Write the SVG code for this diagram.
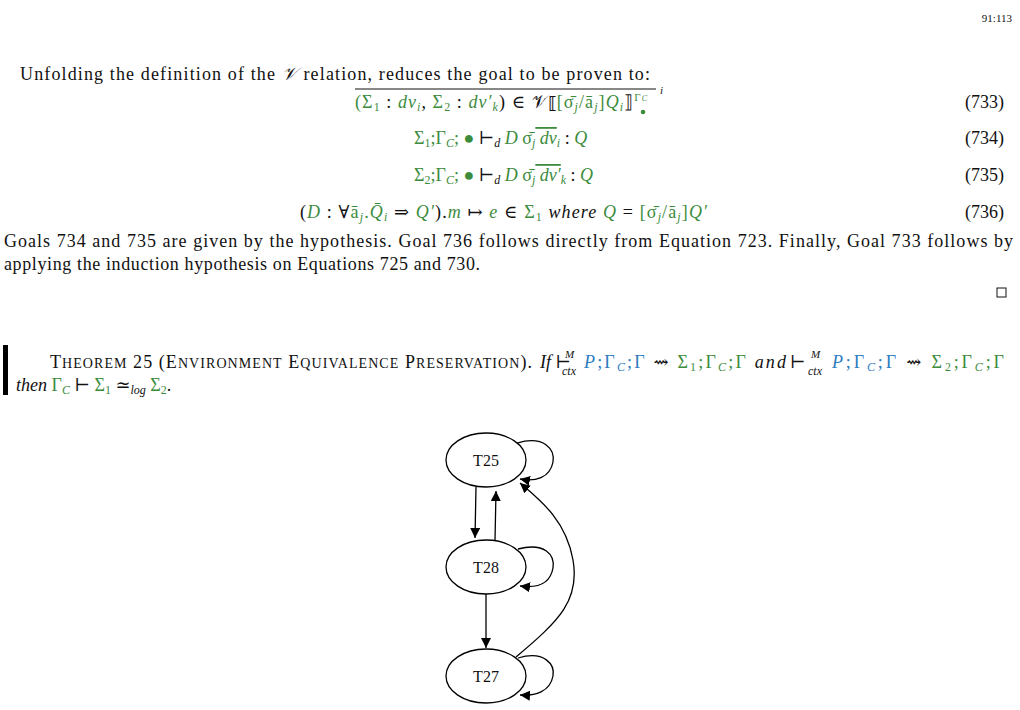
<svg xmlns="http://www.w3.org/2000/svg" width="1020" height="710" viewBox="0 0 1020 710">
<style>
text{font-family:"Liberation Serif","DejaVu Serif",serif;font-size:18px;fill:#111}
.g{fill:#3d8c3d}.b{fill:#2b7bbf}.i{font-style:italic}
.sc{font-size:14px}
.n{fill:#fff;stroke:#000;stroke-width:1.3}
.e{fill:none;stroke:#000;stroke-width:1.3}
.nt{font-size:16px;text-anchor:middle}
</style>
<defs><marker id="a" viewBox="0 0 10 10" refX="10" refY="5" markerWidth="10" markerHeight="10" markerUnits="userSpaceOnUse" orient="auto"><path d="M0,0L10,5L0,10z"/></marker></defs>
<rect width="1020" height="710" fill="#fff"/>
<text x="1012" y="22" text-anchor="end" style="font-size:11px">91:113</text>
<text x="20" y="80" textLength="630">Unfolding the definition of the <tspan class="i">𝒱</tspan> relation, reduces the goal to be proven to:</text>
<line x1="355" y1="89" x2="656" y2="89" stroke="#111"/>
<text x="355" y="108" class="g" textLength="292">(Σ<tspan font-size="12" dy="3">1</tspan><tspan dy="-3" fill="#111"> : </tspan><tspan class="i">dv</tspan><tspan font-size="12" dy="3" class="i">i</tspan><tspan dy="-3" fill="#111">, </tspan>Σ<tspan font-size="12" dy="3">2</tspan><tspan dy="-3" fill="#111"> : </tspan><tspan class="i">dv′</tspan><tspan font-size="12" dy="3" class="i">k</tspan><tspan dy="-3" fill="#111">) ∈ 𝒱⟦</tspan>[σ̄<tspan font-size="12" dy="3" class="i">j</tspan><tspan dy="-3">/ā</tspan><tspan font-size="12" dy="3" class="i">j</tspan><tspan dy="-3">]</tspan><tspan class="i">Q</tspan><tspan font-size="12" dy="3" class="i">i</tspan><tspan dy="-3" fill="#111">⟧</tspan><tspan font-size="11" dy="-7">Γ</tspan><tspan font-size="8" class="i">C</tspan></text>
<circle cx="643" cy="112" r="2.3" fill="#3d8c3d"/>
<text x="660" y="94" class="i" style="font-size:11px">i</text>
<text x="1004" y="108" text-anchor="end">(733)</text>
<text x="414" y="144" class="g">Σ<tspan font-size="12" dy="3">1</tspan><tspan dy="-3">;Γ</tspan><tspan font-size="12" dy="3" class="i">C</tspan><tspan dy="-3">; ● </tspan><tspan fill="#111">⊢</tspan><tspan font-size="12" dy="3" class="i" fill="#111">d</tspan><tspan dy="-3" class="i"> D</tspan> σ̄<tspan font-size="12" dy="3" class="i">j</tspan><tspan dy="-3" class="i" text-decoration="overline"> dv</tspan><tspan font-size="12" dy="3" class="i">i</tspan><tspan dy="-3" fill="#111"> : </tspan><tspan class="i">Q</tspan></text>
<text x="1004" y="144" text-anchor="end">(734)</text>
<text x="414" y="181" class="g">Σ<tspan font-size="12" dy="3">2</tspan><tspan dy="-3">;Γ</tspan><tspan font-size="12" dy="3" class="i">C</tspan><tspan dy="-3">; ● </tspan><tspan fill="#111">⊢</tspan><tspan font-size="12" dy="3" class="i" fill="#111">d</tspan><tspan dy="-3" class="i"> D</tspan> σ̄<tspan font-size="12" dy="3" class="i">j</tspan><tspan dy="-3" class="i" text-decoration="overline"> dv′</tspan><tspan font-size="12" dy="3" class="i">k</tspan><tspan dy="-3" fill="#111"> : </tspan><tspan class="i">Q</tspan></text>
<text x="1004" y="181" text-anchor="end">(735)</text>
<text x="300" y="218" class="g" textLength="407"><tspan fill="#111">(</tspan><tspan class="i">D</tspan><tspan fill="#111"> : ∀</tspan>ā<tspan font-size="12" dy="3" class="i">j</tspan><tspan dy="-3">.</tspan><tspan class="i">Q̄</tspan><tspan font-size="12" dy="3" class="i">i</tspan><tspan dy="-3" fill="#111"> ⇒ </tspan><tspan class="i">Q′</tspan><tspan fill="#111">).</tspan><tspan class="i">m</tspan><tspan fill="#111"> ↦ </tspan><tspan class="i">e</tspan><tspan fill="#111"> ∈ </tspan>Σ<tspan font-size="12" dy="3">1</tspan><tspan dy="-3" fill="#111" class="i">  where </tspan><tspan class="i">Q</tspan><tspan fill="#111"> = </tspan>[σ̄<tspan font-size="12" dy="3" class="i">j</tspan><tspan dy="-3">/ā</tspan><tspan font-size="12" dy="3" class="i">j</tspan><tspan dy="-3">]</tspan><tspan class="i">Q′</tspan></text>
<text x="1004" y="218" text-anchor="end">(736)</text>
<text x="4" y="247" textLength="1009">Goals 734 and 735 are given by the hypothesis. Goal 736 follows directly from Equation 723. Finally, Goal 733 follows by</text>
<text x="4" y="270" textLength="476">applying the induction hypothesis on Equations 725 and 730.</text>
<rect x="997" y="288" width="9" height="9" fill="none" stroke="#111"/>
<rect x="3" y="345" width="5" height="50" fill="#000"/>
<text x="50" y="368" textLength="482">T<tspan class="sc">HEOREM</tspan> 25 (E<tspan class="sc">NVIRONMENT</tspan> E<tspan class="sc">QUIVALENCE</tspan> P<tspan class="sc">RESERVATION</tspan>).</text>
<text x="540" y="368" class="i">If ⊢</text>
<text x="565" y="358" class="i" style="font-size:11px">M</text>
<text x="562" y="375" class="i" style="font-size:12px">ctx</text>
<text x="584" y="368" textLength="202"><tspan class="b i">P</tspan><tspan class="b">;Γ</tspan><tspan font-size="12" dy="3" class="b i">C</tspan><tspan dy="-3" class="b">;Γ</tspan> ⇝ <tspan class="g">Σ<tspan font-size="12" dy="3">1</tspan><tspan dy="-3">;Γ</tspan><tspan font-size="12" dy="3" class="i">C</tspan><tspan dy="-3">;Γ</tspan></tspan><tspan class="i"> and</tspan></text>
<text x="790" y="368">⊢</text>
<text x="811" y="358" class="i" style="font-size:11px">M</text>
<text x="808" y="375" class="i" style="font-size:12px">ctx</text>
<text x="832" y="368" textLength="172"><tspan class="b i">P</tspan><tspan class="b">;Γ</tspan><tspan font-size="12" dy="3" class="b i">C</tspan><tspan dy="-3" class="b">;Γ</tspan> ⇝ <tspan class="g">Σ<tspan font-size="12" dy="3">2</tspan><tspan dy="-3">;Γ</tspan><tspan font-size="12" dy="3" class="i">C</tspan><tspan dy="-3">;Γ</tspan></tspan></text>
<text x="16" y="391"><tspan class="i">then </tspan><tspan class="g">Γ</tspan><tspan class="g i" font-size="12" dy="3">C</tspan><tspan dy="-3"> ⊢ </tspan><tspan class="g">Σ</tspan><tspan class="g" font-size="12" dy="3">1</tspan><tspan dy="-3"> ≃</tspan><tspan class="i" font-size="12" dy="3">log</tspan><tspan dy="-3" class="g"> Σ</tspan><tspan class="g" font-size="12" dy="3">2</tspan><tspan dy="-3">.</tspan></text>
<g id="edges">
<path class="e" d="M476,487 L475,538" marker-end="url(#a)"/>
<path class="e" d="M495,541 L496,491" marker-end="url(#a)"/>
<path class="e" d="M486,594 L486,648" marker-end="url(#a)"/>
<path class="e" d="M516,657 C560,620 580,600 573,560 C566,520 540,500 520,483" marker-end="url(#a)"/>
<path class="e" d="M517,443 C545,435 555,450 553,462 C550,478 535,482 520,479" marker-end="url(#a)"/>
<path class="e" d="M518,549 C545,542 555,555 553,568 C550,585 535,588 520,586" marker-end="url(#a)"/>
<path class="e" d="M518,658 C545,650 555,665 553,676 C550,692 535,696 520,695" marker-end="url(#a)"/>
</g>
<g id="T25"><ellipse class="n" cx="486" cy="460" rx="40" ry="27"/><text class="nt" x="486" y="466">T25</text></g>
<g id="T28"><ellipse class="n" cx="486" cy="567" rx="40" ry="27"/><text class="nt" x="486" y="573">T28</text></g>
<g id="T27"><ellipse class="n" cx="486" cy="676" rx="40" ry="27"/><text class="nt" x="486" y="682">T27</text></g>
</svg>
